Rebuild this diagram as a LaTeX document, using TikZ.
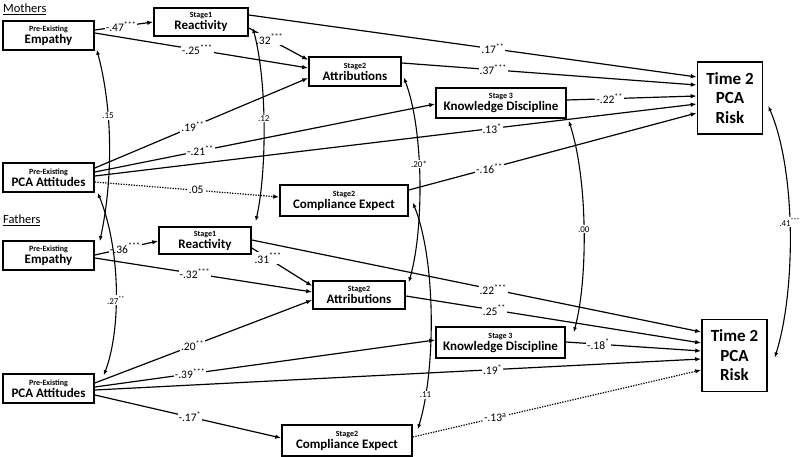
\documentclass[tikz,border=0pt]{standalone}
\usepackage{fontspec}
\setmainfont{Carlito}
\usetikzlibrary{arrows.meta,calc}
\newcommand{\stars}[1]{\textsuperscript{#1}}
\newcommand{\bxt}[2]{{\fontsize{8}{9}\selectfont #1}\\{\fontsize{13}{13.5}\selectfont #2}}
\begin{document}
\begin{tikzpicture}[x=1pt,y=-1pt,
  box/.style={draw,line width=1.6pt,align=center,inner sep=1pt,font=\bfseries},
  tbox/.style={box,minimum width=65,minimum height=72,font=\bfseries\fontsize{17}{19.5}\selectfont},
  arr/.style={-{Latex[length=6pt,width=4.5pt]},line width=1.2pt},
  dotl/.style={dash pattern=on 1.3pt off 1.3pt},
  cov/.style={{Latex[length=5pt,width=4pt]}-{Latex[length=5pt,width=4pt]},line width=1.1pt},
  lbl/.style={fill=white,inner sep=1pt,font=\fontsize{11.5}{12}\selectfont},
  clbl/.style={fill=white,inner sep=1pt,font=\fontsize{9}{10}\selectfont},
  grp/.style={font=\fontsize{12.5}{14}\selectfont,anchor=west,inner sep=0pt}]
\useasboundingbox (0,0) rectangle (800,457);
% group titles
\node[grp] (tM) at (3,9) {\underline{Mothers}};
\node[grp] (tF) at (3,220) {\underline{Fathers}};
% mothers boxes
\node[box,minimum width=91,minimum height=29] (mEmp) at (48.5,35.5) {\bxt{Pre-Existing}{Empathy}};
\node[box,minimum width=94,minimum height=28] (mReact) at (201,22) {\bxt{Stage1}{Reactivity}};
\node[box,minimum width=92,minimum height=29] (mAttr) at (355,71.5) {\bxt{Stage2}{Attributions}};
\node[box,minimum width=130,minimum height=30] (mKD) at (501,103) {\bxt{Stage 3}{Knowledge Discipline}};
\node[tbox] (mT2) at (730,98) {Time 2\\PCA\\Risk};
\node[box,minimum width=91,minimum height=29] (mAtt) at (48.5,177.5) {\bxt{Pre-Existing}{PCA Attitudes}};
\node[box,minimum width=128,minimum height=31] (mComp) at (344,200.5) {\bxt{Stage2}{Compliance Expect}};
% fathers boxes
\node[box,minimum width=91,minimum height=29] (fEmp) at (48.5,255.5) {\bxt{Pre-Existing}{Empathy}};
\node[box,minimum width=92,minimum height=27] (fReact) at (205,240.5) {\bxt{Stage1}{Reactivity}};
\node[box,minimum width=92,minimum height=28] (fAttr) at (359,295) {\bxt{Stage2}{Attributions}};
\node[box,minimum width=129,minimum height=31] (fKD) at (500.5,342.5) {\bxt{Stage 3}{Knowledge Discipline}};
\node[tbox] (fT2) at (734.5,355.5) {Time 2\\PCA\\Risk};
\node[box,minimum width=91,minimum height=29] (fAtt) at (48.5,388.5) {\bxt{Pre-Existing}{PCA Attitudes}};
\node[box,minimum width=130,minimum height=31] (fComp) at (347,440.5) {\bxt{Stage2}{Compliance Expect}};
% mothers paths
\draw[arr] (mEmp.east|-0,30) -- node[lbl,pos=.45]{-.47\stars{***}} (mReact.west|-0,22);
\draw[arr] (mEmp.east|-0,33) -- node[lbl,pos=.48]{-.25\stars{***}} (mAttr.west|-0,68);
\draw[arr] (mReact.east|-0,28) -- node[lbl,pos=.35]{.32\stars{***}} (mAttr.west|-0,60);
\draw[arr] (mReact.east|-0,15) -- node[lbl,pos=.545]{.17\stars{**}} (mT2.west|-0,77);
\draw[arr] (mAttr.east|-0,63) -- node[lbl,pos=.31]{.37\stars{***}} (mT2.west|-0,85);
\draw[arr] (mKD.east|-0,100) -- node[lbl,pos=.33]{-.22\stars{**}} (mT2.west|-0,96);
\draw[arr] (mAtt.east|-0,176) -- node[lbl,pos=.66]{.13\stars{*}} (mT2.west|-0,104);
\draw[arr] (mComp.east|-0,190) -- node[lbl,pos=.28]{-.16\stars{**}} (mT2.west|-0,113);
\draw[arr] (mAtt.east|-0,168) -- node[lbl,pos=.46]{.19\stars{**}} (mAttr.west|-0,78);
\draw[arr] (mAtt.east|-0,172) -- node[lbl,pos=.31]{-.21\stars{**}} (mKD.west|-0,104);
\draw[arr,dotl] (mAtt.east|-0,182) -- node[lbl,pos=.55]{.05} (mComp.west|-0,197);
% fathers paths
\draw[arr] (fEmp.east|-0,255) -- node[lbl,pos=.48]{-.36\stars{***}} (fReact.west|-0,241);
\draw[arr] (fEmp.east|-0,258) -- node[lbl,pos=.46]{-.32\stars{***}} (fAttr.west|-0,292);
\draw[arr] (fReact.east|-0,248) -- node[lbl,pos=.27]{.31\stars{***}} (fAttr.west|-0,286);
\draw[arr] (fReact.east|-0,240) -- node[lbl,pos=.537]{.22\stars{***}} (fT2.west|-0,332);
\draw[arr] (fAttr.east|-0,296) -- node[lbl,pos=.30]{.25\stars{**}} (fT2.west|-0,343);
\draw[arr] (fKD.east|-0,342) -- node[lbl,pos=.24]{-.18\stars{*}} (fT2.west|-0,351);
\draw[arr] (fAtt.east|-0,390) -- node[lbl,pos=.656]{.19\stars{*}} (fT2.west|-0,359);
\draw[arr,dotl] (fComp.east|-0,437) -- node[lbl,pos=.286]{-.13\stars{a}} (fT2.west|-0,370);
\draw[arr] (fAtt.east|-0,383) -- node[lbl,pos=.45]{.20\stars{**}} (fAttr.west|-0,300);
\draw[arr] (fAtt.east|-0,387) -- node[lbl,pos=.28]{-.39\stars{***}} (fKD.west|-0,340);
\draw[arr] (fAtt.east|-0,395) -- node[lbl,pos=.51]{-.17\stars{*}} (fComp.west|-0,438);
% covariances
\draw[cov] ($(mEmp.south east)+(2,-1)$) .. controls (113,110) and (113,180) .. node[clbl,pos=.35]{.15} ($(fEmp.north east)+(5,1)$);
\draw[cov] ($(mAtt.south east)+(3,0)$) .. controls (121,250) and (121,330) .. node[clbl,pos=.56]{.27\stars{**}} ($(fAtt.north east)+(9,2)$);
\draw[cov] ($(mReact.east)+(4,6)$) .. controls (267,80) and (267,170) .. node[clbl,pos=.47]{.12} ($(fReact.north east)+(4,-5)$);
\draw[cov] ($(mAttr.east)+(2,6)$) .. controls (424,130) and (424,230) .. node[clbl,pos=.43]{.20*} ($(fAttr.north east)+(3,2)$);
\draw[cov] ($(mComp.east)+(4,2)$) .. controls (436,260) and (436,370) .. node[clbl,pos=.83]{.11} ($(fComp.north east)+(5,5)$);
\draw[cov] ($(mKD.south east)+(2,2)$) .. controls (588,180) and (588,280) .. node[clbl,pos=.5]{.00} ($(fKD.north east)+(8,6)$);
\draw[cov] ($(mT2.east)+(5,8)$) .. controls (796,170) and (796,290) .. node[clbl,pos=.47]{.41\stars{***}} ($(fT2.east)+(7,2)$);
\end{tikzpicture}
\end{document}
